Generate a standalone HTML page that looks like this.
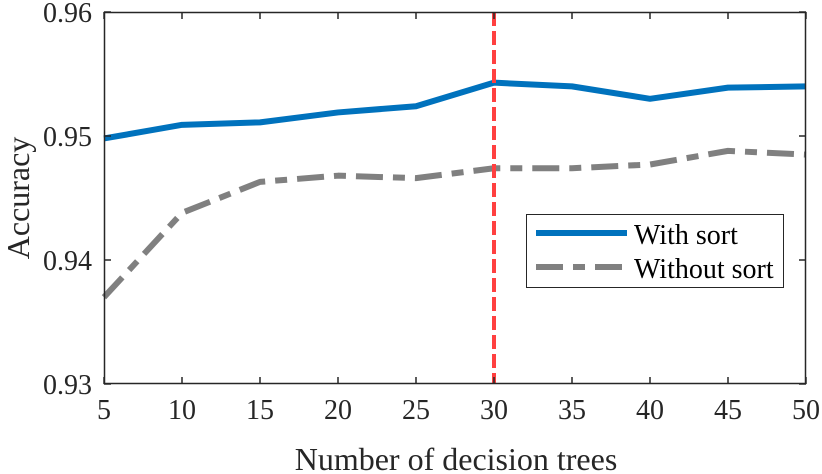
<!DOCTYPE html>
<html><head><meta charset="utf-8"><style>
body{margin:0;background:#fff}
svg{display:block;font-family:"Liberation Serif",serif}
</style></head><body>
<svg id="chart" width="822" height="474" viewBox="0 0 822 474">
<g id="grid"></g>
<g id="series"></g>
<g id="axes"></g>
<g id="legend">
<rect x="526.5" y="214.5" width="257" height="73" fill="#fff" stroke="#262626" stroke-width="1"/>
<line x1="536" y1="233" x2="627" y2="233" stroke="#0072BD" stroke-width="6"/>
<text x="634" y="244" font-size="28">With sort</text>
<line x1="536" y1="267" x2="627" y2="267" stroke="#808080" stroke-width="6" stroke-dasharray="27,10,12,10"/>
<text x="634" y="278" font-size="28">Without sort</text>
</g>
</svg>
<script>
const xValues=[5,10,15,20,25,30,35,40,45,50];
const withSort=[0.9498,0.9509,0.9511,0.9519,0.9524,0.9543,0.9540,0.9530,0.9539,0.9540];
const withoutSort=[0.9370,0.9438,0.9463,0.9468,0.9466,0.9474,0.9474,0.9477,0.9488,0.9485];
const xTicks=[5,10,15,20,25,30,35,40,45,50];
const yTicks=[0.93,0.94,0.95,0.96];
const yTickLabels=["0.93","0.94","0.95","0.96"];
const markerX=30;
const L=104,R=806,T=12,B=384;
const sx=v=>L+(v-5)/45*(R-L);
const sy=v=>B-(v-0.93)/0.03*(B-T);
const NS="http://www.w3.org/2000/svg";
function mk(tag,attrs,parent){const e=document.createElementNS(NS,tag);for(const k in attrs)e.setAttribute(k,attrs[k]);parent.appendChild(e);return e;}
const ser=document.getElementById('series'),ax=document.getElementById('axes');
function line(vals,color,dash,name){
 const p=mk('polyline',{points:vals.map((v,i)=>sx(xValues[i])+','+sy(v)).join(' '),fill:'none',stroke:color,'stroke-width':6,'stroke-linejoin':'round'},ser);
 if(dash)p.setAttribute('stroke-dasharray',dash);
 
 
}
line(withoutSort,'#808080','27,10,12,10','without-sort-line');
line(withSort,'#0072BD',null,'with-sort-line');
const ml=mk('line',{x1:sx(markerX),x2:sx(markerX),y1:T,y2:B,stroke:'#FF4040','stroke-width':4,'stroke-dasharray':'14,5'},ser);


const box=mk('rect',{x:L+0.5,y:T+0.5,width:R-L-1,height:B-T-1,fill:'none',stroke:'#262626','stroke-width':1.5},ax);


xTicks.forEach(t=>{
 const x=sx(t);
 mk('line',{x1:x,x2:x,y1:B,y2:B-7,stroke:'#262626','stroke-width':1.5},ax);
 mk('line',{x1:x,x2:x,y1:T,y2:T+7,stroke:'#262626','stroke-width':1.5},ax);
 const tx=mk('text',{x:x,y:B+35,'font-size':28,'text-anchor':'middle',fill:'#262626'},ax);
 tx.textContent=t;
 
 
});
yTicks.forEach((t,i)=>{
 const y=sy(t);
 mk('line',{x1:L,x2:L+7,y1:y,y2:y,stroke:'#262626','stroke-width':1.5},ax);
 mk('line',{x1:R,x2:R-7,y1:y,y2:y,stroke:'#262626','stroke-width':1.5},ax);
 const tx=mk('text',{x:L-12,y:y+10,'font-size':28,'text-anchor':'end',fill:'#262626'},ax);
 tx.textContent=yTickLabels[i];
 
 
});
const xt=mk('text',{x:456,y:470,'font-size':32,'text-anchor':'middle',fill:'#262626'},ax);
xt.textContent='Number of decision trees';


const yt=mk('text',{x:0,y:0,'font-size':32,'text-anchor':'middle',fill:'#262626',transform:'translate(29,'+((T+B)/2)+') rotate(-90)'},ax);
yt.textContent='Accuracy';


</script>
</body></html>
